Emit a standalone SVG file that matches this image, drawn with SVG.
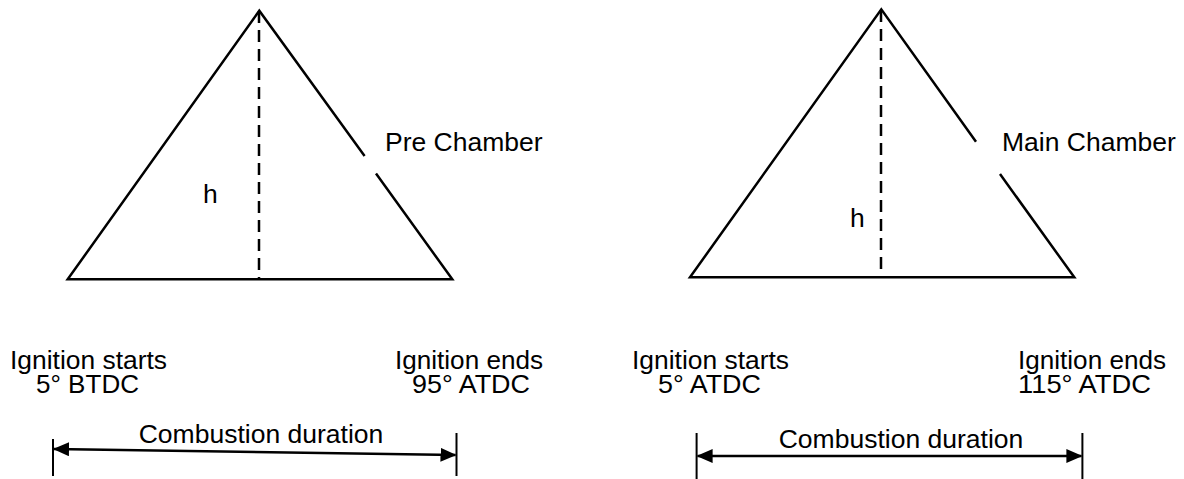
<svg xmlns="http://www.w3.org/2000/svg" width="1184" height="479" viewBox="0 0 1184 479">
<style>
.edge{fill:none;stroke:#000;stroke-width:2.5;stroke-linecap:butt}
.dash{fill:none;stroke:#000;stroke-width:2.5;stroke-dasharray:12,7}
.tick{fill:none;stroke:#000;stroke-width:2}
.arr{fill:none;stroke:#000;stroke-width:2.5}
text{font-family:"Liberation Sans",Arial,sans-serif;font-size:26.5px;fill:#000}
.lbl{font-size:25px}
</style>
<defs>
<marker id="ah" viewBox="0 0 16 14" refX="15" refY="7" markerWidth="16" markerHeight="14" markerUnits="userSpaceOnUse" orient="auto-start-reverse">
<path d="M0,0 L16,7 L0,14 Z" fill="#000"/>
</marker>
</defs>
<g id="pre-chamber">
<path class="edge" d="M364.6,156 L259.3,10.7 L67.7,279.3 L452.3,279.3 L376,173.5"/>
<line class="dash" x1="259" y1="11" x2="259" y2="279"/>
<text x="203" y="203">h</text>
<text x="385" y="151">Pre Chamber</text>
</g>
<g id="main-chamber">
<path class="edge" d="M976,141.7 L881.3,9.3 L690,277.3 L1074.3,277.3 L1000,174"/>
<line class="dash" x1="881" y1="10" x2="881" y2="277"/>
<text x="850" y="227">h</text>
<text x="1002" y="151">Main Chamber</text>
</g>
<g id="pre-labels">
<text class="lbl" x="10" y="369" textLength="157" lengthAdjust="spacingAndGlyphs">Ignition starts</text>
<text class="lbl" x="36" y="393" textLength="103" lengthAdjust="spacingAndGlyphs">5° BTDC</text>
<text class="lbl" x="395" y="369" textLength="148" lengthAdjust="spacingAndGlyphs">Ignition ends</text>
<text class="lbl" x="412" y="393" textLength="118" lengthAdjust="spacingAndGlyphs">95° ATDC</text>
<text x="261" y="443" text-anchor="middle">Combustion duration</text>
</g>
<g id="main-labels">
<text class="lbl" x="632" y="369" textLength="157" lengthAdjust="spacingAndGlyphs">Ignition starts</text>
<text class="lbl" x="658" y="393" textLength="103" lengthAdjust="spacingAndGlyphs">5° ATDC</text>
<text class="lbl" x="1018" y="369" textLength="148" lengthAdjust="spacingAndGlyphs">Ignition ends</text>
<text class="lbl" x="1018" y="393" textLength="133" lengthAdjust="spacingAndGlyphs">115° ATDC</text>
<text x="901" y="448" text-anchor="middle">Combustion duration</text>
</g>
<g id="connectors">
<line class="tick" x1="53" y1="439" x2="53" y2="476"/>
<line class="tick" x1="456.5" y1="433" x2="456.5" y2="476"/>
<line class="arr" x1="54" y1="449" x2="455.5" y2="455" marker-start="url(#ah)" marker-end="url(#ah)"/>
<line class="tick" x1="696.6" y1="433" x2="696.6" y2="479"/>
<line class="tick" x1="1082.4" y1="433" x2="1082.4" y2="479"/>
<line class="arr" x1="697.6" y1="456" x2="1081.4" y2="456" marker-start="url(#ah)" marker-end="url(#ah)"/>
</g>
</svg>
